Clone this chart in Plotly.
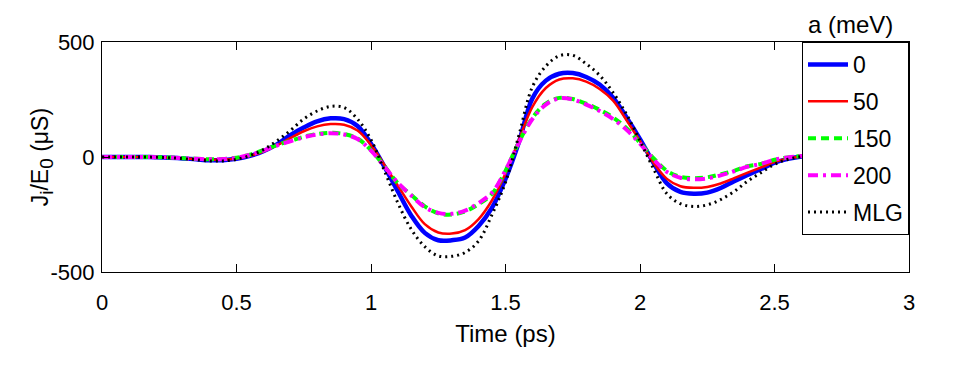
import plotly.graph_objects as go

# Time axis (ps), sampled every 0.05 ps
time_ps = [round(i * 0.05, 2) for i in range(61)]

# J_i/E_0 (uS)
a0 = [0, 0, 0, 0, -1, -3, -6, -10, -14, -14, -8, 5, 25, 55, 95, 128, 155, 168, 165, 135,
      58, -42, -150, -255, -330, -362, -362, -350, -300, -220, -95, 65, 255, 332, 362, 365,
      348, 315, 258, 172, 78, -25, -115, -152, -160, -155, -135, -105, -78, -52, -25, -8,
      2, 8, 10, 10, 8, 5, 3, 1, 0]
a50 = [0, 0, 0, 0, -1, -3, -6, -9, -12, -12, -7, 5, 24, 50, 82, 112, 133, 143, 140, 115,
       52, -35, -125, -215, -292, -328, -333, -318, -270, -188, -72, 75, 218, 300, 337, 342,
       328, 296, 245, 160, 70, -25, -95, -127, -134, -130, -115, -92, -68, -45, -22, -6,
       2, 7, 9, 9, 7, 4, 2, 1, 0]
a150 = [0, 0, 0, 0, -1, -2, -5, -8, -10, -9, -3, 10, 30, 52, 70, 88, 100, 105, 100, 80,
        30, -40, -115, -165, -215, -245, -250, -236, -205, -160, -60, 65, 170, 232, 257, 252,
        232, 205, 172, 125, 62, -5, -60, -86, -92, -88, -75, -60, -40, -30, -12, -2,
        4, 8, 8, 7, 5, 3, 2, 1, 0]
a200 = [0, 0, 0, 0, -1, -2, -5, -8, -10, -9, -3, 9, 28, 50, 68, 86, 98, 103, 98, 78,
        28, -42, -112, -168, -218, -243, -247, -233, -200, -155, -58, 62, 165, 228, 255, 250,
        228, 200, 165, 118, 58, -10, -65, -90, -97, -93, -80, -62, -42, -30, -12, -2,
        4, 8, 8, 7, 5, 3, 2, 1, 0]
mlg = [0, 0, 0, 0, -1, -3, -7, -12, -17, -17, -10, 6, 32, 70, 115, 165, 200, 220, 215, 165,
       75, -60, -200, -315, -390, -430, -432, -415, -365, -250, -110, 95, 305, 395, 440, 442,
       405, 355, 280, 185, 70, -50, -160, -203, -215, -208, -185, -150, -105, -68, -32, -10,
       2, 10, 13, 12, 10, 6, 3, 1, 0]

series_names = ["0", "50", "150", "200", "MLG"]
series_values = [a0, a50, a150, a200, mlg]
series_styles = [
    dict(color="#0000FF", width=4.5, dash="solid"),
    dict(color="#FF0000", width=2.5, dash="solid"),
    dict(color="#00FF00", width=4, dash="8px,5px"),
    dict(color="#FF00FF", width=4, dash="10px,5px,3px,5px"),
    dict(color="#000000", width=3, dash="2px,4px"),
]

FONT = "Liberation Sans"

fig = go.Figure()

for name, values, style in zip(series_names, series_values, series_styles):
    fig.add_trace(go.Scatter(
        x=time_ps,
        y=values,
        mode="lines",
        name=name,
        legendgroup=name,
        line=dict(shape="spline", **style),
    ))

axis_common = dict(
    showline=True,
    linecolor="black",
    linewidth=1,
    mirror="ticks",
    ticks="inside",
    ticklen=8,
    tickcolor="black",
    showgrid=False,
    zeroline=False,
    tickfont=dict(family=FONT, size=22, color="black"),
)

# the page body adds an 8px offset, margins are shifted to compensate
fig.update_layout(
    width=955,
    height=379,
    margin=dict(l=94, r=54, t=34, b=115),
    paper_bgcolor="white",
    plot_bgcolor="white",
    font=dict(family=FONT, size=22, color="black"),
    xaxis=dict(
        range=[0, 3],
        tickvals=[0, 0.5, 1, 1.5, 2, 2.5, 3],
        ticktext=["0", "0.5", "1", "1.5", "2", "2.5", "3"],
        ticklabelstandoff=11,
        title=dict(text="Time (ps)", standoff=10,
                   font=dict(family=FONT, size=24, color="black")),
        **axis_common
    ),
    yaxis=dict(
        range=[-500, 500],
        tickvals=[-500, 0, 500],
        ticktext=["-500", "0", "500"],
        ticklabelstandoff=2,
        **axis_common
    ),
    showlegend=True,
    legend=dict(
        x=1, xanchor="right",
        y=1, yanchor="top",
        bgcolor="white",
        bordercolor="black",
        borderwidth=1,
        itemwidth=40,
        traceorder="grouped",
        tracegroupgap=4,
        font=dict(family=FONT, size=23, color="black"),
    ),
    annotations=[
        dict(
            text="a (meV)",
            xref="paper", yref="paper",
            x=0.928, y=1.074,
            xanchor="center", yanchor="middle",
            showarrow=False,
            font=dict(family=FONT, size=24, color="black"),
        ),
        dict(
            text="J<sub><span style='font-size:19px'>i</span></sub>/E"
                 "<sub><span style='font-size:19px'>0</span></sub> (μS)",
            xref="paper", yref="paper",
            x=-0.074, y=0.5,
            xanchor="center", yanchor="middle",
            textangle=-90,
            showarrow=False,
            font=dict(family=FONT, size=23, color="black"),
        ),
    ],
)

fig.write_html("out.html")
